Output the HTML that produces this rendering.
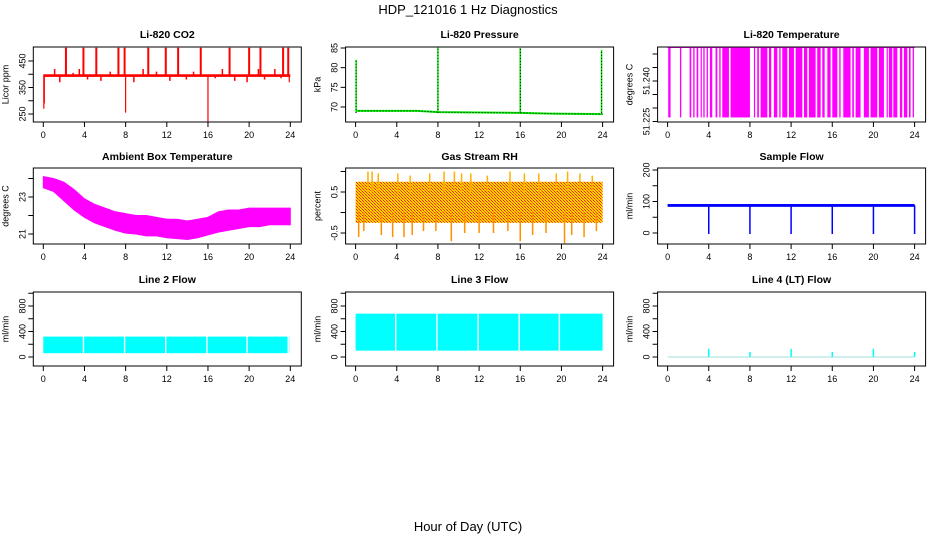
<!DOCTYPE html>
<html><head><meta charset="utf-8"><style>
html,body{margin:0;padding:0;background:#fff;}
svg{display:block;font-family:"Liberation Sans",sans-serif;}
</style></head><body>
<svg id="c" width="936" height="540" viewBox="0 0 936 540">
<defs>
<pattern id="rhpat" width="3" height="3" patternUnits="userSpaceOnUse">
<rect width="3" height="3" fill="#ffd400"/><rect x="0" y="0" width="1" height="1" fill="#ff2000"/><rect x="1" y="1" width="1" height="1" fill="#ff6000"/><rect x="2" y="2" width="1" height="1" fill="#ff2000"/>
</pattern>
</defs>
<text x="468" y="14" text-anchor="middle" font-size="13">HDP_121016  1 Hz Diagnostics</text>
<text x="468" y="531" text-anchor="middle" font-size="13">Hour of Day (UTC)</text>
</svg>
<script>
const xTicks=[0,4,8,12,16,20,24];
// CO2
const co2Base=[390,400];
const co2UpHours=[2.2,3.9,5.15,7.3,7.9,10.2,11.9,13.1,15.3,18.1,20.0,21.1,23.3,23.8];
const co2UpValues=[500,500,500,500,500,500,500,500,500,500,500,500,500,500];
const co2DownHours=[0.05,0.1,8.0,16.0,23.9];
const co2DownValues=[270,290,255,215,370];
const co2SmallHours=[1.1,1.6,2.9,3.5,4.3,5.6,6.5,8.8,9.7,11.0,12.3,13.9,14.6,16.7,17.4,18.6,19.8,20.9,21.5,22.5,23.1];
const co2SmallValues=[420,370,405,420,380,375,410,370,420,410,375,380,410,385,420,375,370,420,380,420,385];
// Pressure
const presHours=[0,6,8,16,19,24];
const presValues=[69.0,69.0,68.7,68.5,68.3,68.2];
const presSpikeHours=[0.05,8.0,16.0,23.9];
const presSpikeValues=[82,85.3,85,84.5];
// Li-820 temperature
const tempLevels=[51.2265,51.2525];
const tempIntervals=[[0.06,0.29],[1.2,1.33],[2.14,2.3],[2.49,2.62],[2.82,2.98],[3.21,3.3],[3.47,3.6],[3.79,3.92],[4.11,4.34],[4.66,4.83],[5.02,5.15],[5.31,5.96],[6.12,8.0],[8.39,8.45],[8.71,8.87],[9.04,9.69],[9.85,10.07],[10.33,10.66],[10.85,10.98],[11.14,11.63],[11.79,12.28],[12.44,13.09],[13.25,13.57],[13.73,14.38],[14.54,14.87],[15.03,15.26],[15.52,15.84],[16.0,16.49],[16.68,16.81],[17.07,17.78],[17.94,18.1],[18.27,18.75],[19.07,19.56],[19.72,20.37],[20.53,21.02],[21.28,21.35],[21.5,21.83],[21.93,22.32],[22.57,22.8],[22.96,23.29],[23.45,23.61],[23.81,23.94]];
// Ambient box temperature
const ambHours=[0,1,2,3,4,5,6,7,8,9,10,11,12,13,14,15,16,17,18,19,20,21,22,23,24];
const ambUpper=[24.1,24.0,23.8,23.4,22.9,22.6,22.4,22.2,22.1,22.0,22.0,21.9,21.8,21.8,21.7,21.8,21.9,22.2,22.3,22.3,22.4,22.4,22.4,22.4,22.4];
const ambLower=[23.5,23.3,22.8,22.3,21.9,21.6,21.4,21.2,21.05,21.0,20.9,20.9,20.8,20.75,20.7,20.8,20.95,21.1,21.2,21.3,21.4,21.4,21.5,21.5,21.5];
// Gas stream RH
const rhBand=[-0.25,0.75];
const rhLowHours=[0.3,0.8,2.5,3.6,4.7,5.5,6.6,7.8,9.3,10.6,12.0,13.4,14.8,16.0,17.2,18.5,20.3,21.0,22.2,23.4];
const rhLowValues=[-0.6,-0.45,-0.55,-0.6,-0.6,-0.55,-0.45,-0.45,-0.7,-0.5,-0.5,-0.5,-0.45,-0.7,-0.55,-0.5,-0.75,-0.55,-0.6,-0.45];
const rhHighHours=[1.2,1.6,2.2,4.1,5.3,7.2,8.6,9.6,10.3,11.2,12.8,15.0,16.4,17.8,19.5,20.6,21.8,23.0];
const rhHighValues=[1.0,1.0,0.95,0.95,0.9,0.95,1.0,1.0,0.95,0.95,0.9,1.0,0.95,0.95,0.95,1.0,0.95,0.9];
// Sample flow
const sfBand=[83,92];
const sfDropHours=[4,8,12,16,20,24];
const sfDropValues=[-3,-3,-3,-3,-3,-3];
// Line 2 / Line 3 flow
const l2Band=[60,320];
const l2GapHours=[3.9,7.9,11.9,15.9,19.8,23.8];
const l3Band=[100,680];
const l3GapHours=[3.9,7.9,11.9,15.9,19.8];
// Line 4 flow
const l4SpikeHours=[4,8,12,16,20,24];
const l4SpikeValues=[130,80,130,80,130,80];

const svg=document.getElementById('c');
const NS='http://www.w3.org/2000/svg';
function mk(tag,attrs,name,parent){
  const el=document.createElementNS(NS,tag);
  for(const k in attrs) el.setAttribute(k,attrs[k]);
  
  
  (parent||svg).appendChild(el);
  return el;
}
const colOff=[0,312.3,624.3];
const rowTop=[47,168,292], rowBot=[122,244,366];
const titleY=[38,160,283];

function panel(col,row,title,ylab,vA,yA,vB,yB,ticks,labels,key){
  const off=colOff[col];
  const x0=43.3+off, x24=290.3+off;
  const X=h=>x0+(x24-x0)*h/24;
  const Y=v=>yA+(v-vA)*(yB-yA)/(vB-vA);
  const L=x0-10, R=x24+11, T=rowTop[row], B=rowBot[row];
  const g=mk('g',{},key+'-panel');
  const t=mk('text',{x:(L+R)/2,y:titleY[row],'text-anchor':'middle','font-size':10.5,'font-weight':'bold'},key+'-title',g);
  t.textContent=title;
  const clipId='clip-'+key;
  const cp=mk('clipPath',{id:clipId},key+'-clip',g);
  mk('rect',{x:L,y:T,width:R-L,height:B-T},key+'-clip-rect',cp);
  const dg=mk('g',{'clip-path':'url(#'+clipId+')'},key+'-data',g);
  mk('rect',{x:L,y:T,width:R-L,height:B-T,fill:'none',stroke:'#000','stroke-width':1},key+'-frame',g);
  xTicks.forEach(h=>{
    mk('line',{x1:X(h),x2:X(h),y1:B,y2:B+5,stroke:'#000'},key+'-x-tick',g);
    const tl=mk('text',{x:X(h),y:B+16,'text-anchor':'middle','font-size':9},key+'-x-tick-label',g);
    tl.textContent=h;
  });
  ticks.forEach(v=>{
    mk('line',{x1:L-5,x2:L,y1:Y(v),y2:Y(v),stroke:'#000'},key+'-y-tick',g);
  });
  labels.forEach(s=>{
    const yy=Y(parseFloat(s)), xx=L-8;
    const tl=mk('text',{x:xx,y:yy,'text-anchor':'middle','font-size':9,transform:'rotate(-90 '+xx+' '+yy+')'},key+'-y-tick-label',g);
    tl.textContent=s;
  });
  const yx=L-25, ym=(T+B)/2;
  const yt=mk('text',{x:yx,y:ym,'text-anchor':'middle','font-size':9,transform:'rotate(-90 '+yx+' '+ym+')'},key+'-y-axis-title',g);
  yt.textContent=ylab;
  return {X,Y,g:dg};
}

(function(){
  const p=panel(0,0,'Li-820 CO2','Licor ppm',250,114,450,61,[250,300,350,400,450],['250','350','450'],'co2');
  mk('rect',{x:p.X(0),y:p.Y(co2Base[1]),width:p.X(24)-p.X(0),height:p.Y(co2Base[0])-p.Y(co2Base[1]),fill:'#ff0000'},'co2-baseline',p.g);
  co2UpHours.forEach((h,i)=>{mk('line',{x1:p.X(h),x2:p.X(h),y1:p.Y(395),y2:p.Y(co2UpValues[i]),stroke:'#ff0000','stroke-width':2},'co2-up-spike',p.g);});
  co2DownHours.forEach((h,i)=>{mk('line',{x1:p.X(h),x2:p.X(h),y1:p.Y(395),y2:p.Y(co2DownValues[i]),stroke:'#ff0000','stroke-width':1.2},'co2-down-spike',p.g);});
  co2SmallHours.forEach((h,i)=>{mk('line',{x1:p.X(h),x2:p.X(h),y1:p.Y(395),y2:p.Y(co2SmallValues[i]),stroke:'#ff0000','stroke-width':1.5},'co2-small-spike',p.g);});
})();
(function(){
  const p=panel(1,0,'Li-820 Pressure','kPa',70,107,85,48,[70,75,80,85],['70','75','80','85'],'pressure');
  let d='';
  presHours.forEach((h,i)=>{d+=(i?'L':'M')+p.X(h)+' '+p.Y(presValues[i]);});
  mk('path',{d:d,fill:'none',stroke:'#00ee00','stroke-width':2},'pressure-line',p.g);
  mk('path',{d:d,fill:'none',stroke:'#000','stroke-width':1,'stroke-dasharray':'1 2'},'pressure-dots',p.g);
  presSpikeHours.forEach((h,i)=>{
    mk('line',{x1:p.X(h),x2:p.X(h),y1:p.Y(68.5),y2:p.Y(presSpikeValues[i]),stroke:'#00ee00','stroke-width':1.5},'pressure-spike',p.g);
    mk('line',{x1:p.X(h),x2:p.X(h),y1:p.Y(68.5),y2:p.Y(presSpikeValues[i]),stroke:'#000','stroke-width':1,'stroke-dasharray':'1 2'},'pressure-spike-dots',p.g);
  });
})();
(function(){
  const p=panel(2,0,'Li-820 Temperature','degrees C',51.23,108,51.25,54,[51.225,51.23,51.235,51.24,51.245,51.25],['51.225','51.240'],'li820-temp');
  const yh=p.Y(tempLevels[1]), yl=p.Y(tempLevels[0]);
  mk('line',{x1:p.X(0),x2:p.X(24),y1:yh,y2:yh,stroke:'#ff00ff','stroke-width':1.5},'temp-high-line',p.g);
  tempIntervals.forEach(iv=>{
    mk('rect',{x:p.X(iv[0]),y:yh,width:Math.max(1.2,p.X(iv[1])-p.X(iv[0])),height:yl-yh,fill:'#ff00ff'},'temp-toggle-block',p.g);
  });
})();
(function(){
  const p=panel(0,1,'Ambient Box Temperature','degrees C',21,234,23,197,[21,22,23,24],['21','23'],'ambient');
  let d='';
  ambHours.forEach((h,i)=>{d+=(i?'L':'M')+p.X(h)+' '+p.Y(ambUpper[i]);});
  for(let i=ambHours.length-1;i>=0;i--) d+='L'+p.X(ambHours[i])+' '+p.Y(ambLower[i]);
  mk('path',{d:d+'Z',fill:'#ff00ff',stroke:'#ff00ff','stroke-width':1},'ambient-band',p.g);
})();
(function(){
  const p=panel(1,1,'Gas Stream RH','percent',-0.5,233,0.5,192,[-0.5,0,0.5,1],['-0.5','0.5'],'rh');
  mk('rect',{x:p.X(0),y:p.Y(rhBand[1]),width:p.X(24)-p.X(0),height:p.Y(rhBand[0])-p.Y(rhBand[1]),fill:'url(#rhpat)'},'rh-band',p.g);
  rhLowHours.forEach((h,i)=>{mk('line',{x1:p.X(h),x2:p.X(h),y1:p.Y(0),y2:p.Y(rhLowValues[i]),stroke:'#ff9000','stroke-width':1.5},'rh-low-spike',p.g);});
  rhHighHours.forEach((h,i)=>{mk('line',{x1:p.X(h),x2:p.X(h),y1:p.Y(0.5),y2:p.Y(rhHighValues[i]),stroke:'#ffb000','stroke-width':1.5},'rh-high-spike',p.g);});
})();
(function(){
  const p=panel(2,1,'Sample Flow','ml/min',0,233,200,170,[0,50,100,150,200],['0','100','200'],'sample-flow');
  mk('rect',{x:p.X(0),y:p.Y(sfBand[1]),width:p.X(24)-p.X(0),height:p.Y(sfBand[0])-p.Y(sfBand[1]),fill:'#0000ff'},'sample-flow-band',p.g);
  sfDropHours.forEach((h,i)=>{mk('line',{x1:p.X(h),x2:p.X(h),y1:p.Y(88),y2:p.Y(sfDropValues[i]),stroke:'#0000ff','stroke-width':1.5},'sample-flow-drop',p.g);});
})();
function flowPanel(col,title,band,gaps,key,end){
  const p=panel(col,2,title,'ml/min',0,357,800,306,[0,200,400,600,800,1000],['0','400','800'],key);
  mk('rect',{x:p.X(0),y:p.Y(band[1]),width:p.X(end)-p.X(0),height:p.Y(band[0])-p.Y(band[1]),fill:'#00ffff'},key+'-band',p.g);
  gaps.forEach(h=>{mk('rect',{x:p.X(h)-0.7,y:p.Y(band[1])-1,width:1.4,height:p.Y(band[0])-p.Y(band[1])+2,fill:'#fff'},key+'-gap',p.g);});
  return p;
}
flowPanel(0,'Line 2 Flow',l2Band,l2GapHours,'line2-flow',23.9);
flowPanel(1,'Line 3 Flow',l3Band,l3GapHours,'line3-flow',24);
(function(){
  const p=panel(2,2,'Line 4 (LT) Flow','ml/min',0,357,800,306,[0,200,400,600,800,1000],['0','400','800'],'line4-flow');
  mk('line',{x1:p.X(0),x2:p.X(24),y1:p.Y(0),y2:p.Y(0),stroke:'#a0e0e0','stroke-width':1},'line4-baseline',p.g);
  l4SpikeHours.forEach((h,i)=>{mk('line',{x1:p.X(h),x2:p.X(h),y1:p.Y(0),y2:p.Y(l4SpikeValues[i]),stroke:'#00ffff','stroke-width':1.5},'line4-spike',p.g);});
})();
</script>
</body></html>
